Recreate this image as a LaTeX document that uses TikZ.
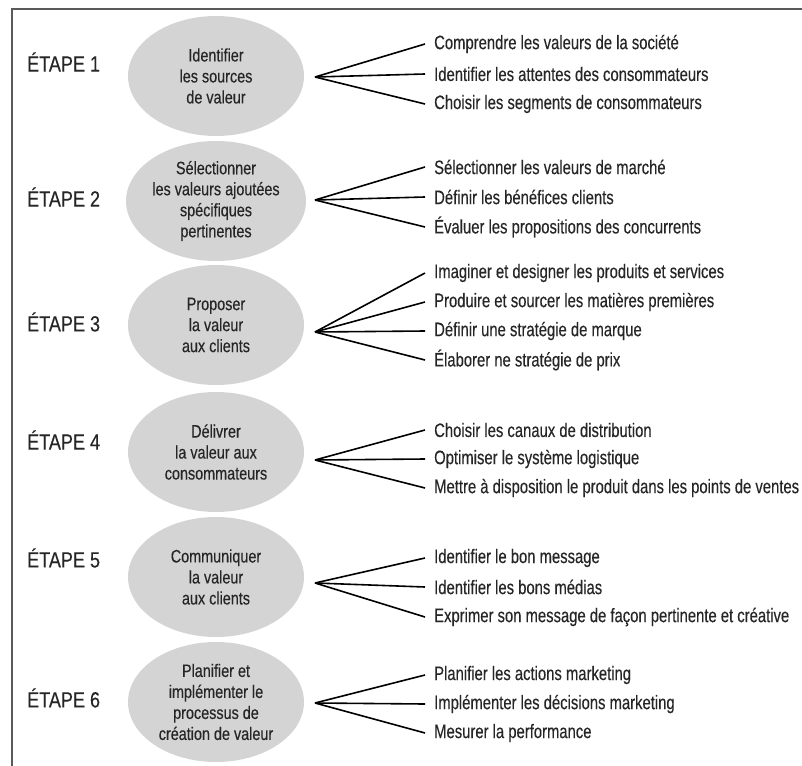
\documentclass[tikz,border=0pt]{standalone}
\usepackage{fontspec}
\setmainfont{Liberation Sans}[FakeStretch=0.80, FakeBold=0.3]
\newfontfamily\itemfamily{Liberation Sans}[FakeStretch=0.76, FakeBold=0.3]
\newfontfamily\labelfamily{Liberation Sans}[FakeStretch=0.82, FakeBold=0.3]
\usetikzlibrary{shapes.geometric}
\definecolor{ink}{HTML}{262626}
\definecolor{bubble}{HTML}{D4D4D4}
\definecolor{frame}{HTML}{5A5A5A}
\tikzset{
  stage/.style={ellipse, fill=bubble, minimum width=176pt, minimum height=120pt,
    inner sep=0pt, align=center, text=ink, font=\fontsize{18}{21}\selectfont},
  steplabel/.style={anchor=west, text=ink, font=\labelfamily\fontsize{22}{24}\selectfont, inner sep=0pt},
  item/.style={anchor=west, text=ink, font=\itemfamily\fontsize{19.5}{21}\selectfont, inner xsep=9pt, inner ysep=0pt},
  fan/.style={draw=black, line width=1.6pt}
}
\begin{document}
\begin{tikzpicture}[x=1pt, y=-1pt]
\useasboundingbox (0,0) rectangle (802,765);
% outer frame (top and left edges only)
\draw[frame, line width=1.8pt] (12,767) -- (12,9) -- (804,9);

% ---- step 1
\node[steplabel] (s1) at (27,62) {ÉTAPE 1};
\node[stage] (e1) at (216,76) {Identifier\\les sources\\de valeur};
\coordinate (a1) at (315,77);
\node[item] (t1a) at (425,44) {Comprendre les valeurs de la société};
\node[item] (t1b) at (425,74) {Identifier les attentes des consommateurs};
\node[item] (t1c) at (425,104) {Choisir les segments de consommateurs};
\foreach \t in {t1a,t1b,t1c} \draw[fan] (a1) -- (\t.west);

% ---- step 2
\node[steplabel] (s2) at (27,197) {ÉTAPE 2};
\node[stage] (e2) at (216,201) {Sélectionner\\les valeurs ajoutées\\spécifiques\\pertinentes};
\coordinate (a2) at (315,200);
\node[item] (t2a) at (425,167) {Sélectionner les valeurs de marché};
\node[item] (t2b) at (425,197) {Définir les bénéfices clients};
\node[item] (t2c) at (425,227) {Évaluer les propositions des concurrents};
\foreach \t in {t2a,t2b,t2c} \draw[fan] (a2) -- (\t.west);

% ---- step 3
\node[steplabel] (s3) at (27,322) {ÉTAPE 3};
\node[stage] (e3) at (216,325) {Proposer\\la valeur\\aux clients};
\coordinate (a3) at (315,332);
\node[item] (t3a) at (425,273) {Imaginer et designer les produits et services};
\node[item] (t3b) at (425,302) {Produire et sourcer les matières premières};
\node[item] (t3c) at (425,331) {Définir une stratégie de marque};
\node[item] (t3d) at (425,360) {Élaborer ne stratégie de prix};
\foreach \t in {t3a,t3b,t3c,t3d} \draw[fan] (a3) -- (\t.west);

% ---- step 4
\node[steplabel] (s4) at (27,440) {ÉTAPE 4};
\node[stage] (e4) at (216,452) {Délivrer\\la valeur aux\\consommateurs};
\coordinate (a4) at (315,460);
\node[item] (t4a) at (425,430) {Choisir les canaux de distribution};
\node[item] (t4b) at (425,459) {Optimiser le système logistique};
\node[item] (t4c) at (425,488) {Mettre à disposition le produit dans les points de ventes};
\foreach \t in {t4a,t4b,t4c} \draw[fan] (a4) -- (\t.west);

% ---- step 5
\node[steplabel] (s5) at (27,558) {ÉTAPE 5};
\node[stage] (e5) at (216,577) {Communiquer\\la valeur\\aux clients};
\coordinate (a5) at (315,583);
\node[item] (t5a) at (425,558) {Identifier le bon message};
\node[item] (t5b) at (425,587) {Identifier les bons médias};
\node[item] (t5c) at (425,617) {Exprimer son message de façon pertinente et créative};
\foreach \t in {t5a,t5b,t5c} \draw[fan] (a5) -- (\t.west);

% ---- step 6
\node[steplabel] (s6) at (27,698) {ÉTAPE 6};
\node[stage] (e6) at (216,702) {Planifier et\\implémenter le\\processus de\\création de valeur};
\coordinate (a6) at (315,703);
\node[item] (t6a) at (425,675) {Planifier les actions marketing};
\node[item] (t6b) at (425,704) {Implémenter les décisions marketing};
\node[item] (t6c) at (425,733) {Mesurer la performance};
\foreach \t in {t6a,t6b,t6c} \draw[fan] (a6) -- (\t.west);
\end{tikzpicture}
\end{document}
